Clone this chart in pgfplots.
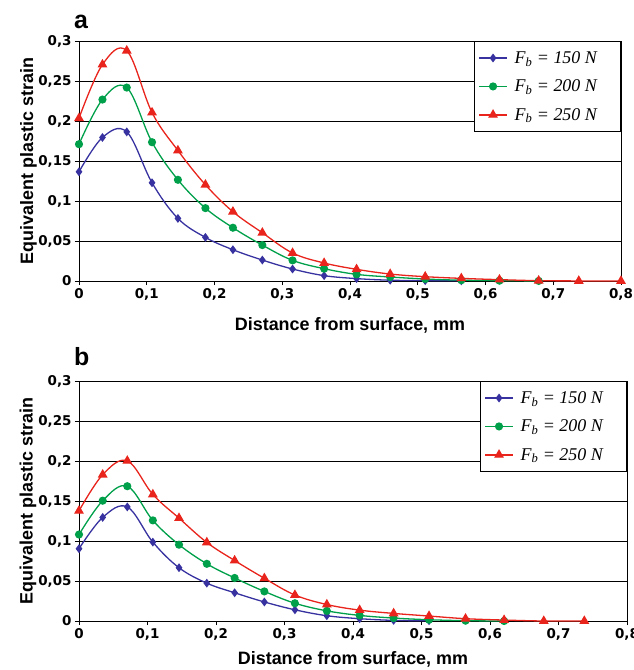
\documentclass[border=0pt]{standalone}
\usepackage{fontspec}
\usepackage{pgfplots}
\pgfplotsset{compat=1.18}
\setmainfont{Liberation Sans}
\newfontfamily\tickfont{DejaVu Sans}
\newfontfamily\legfont{Liberation Serif}
\definecolor{cblue}{RGB}{55,50,160}
\definecolor{cgreen}{RGB}{0,160,75}
\definecolor{cred}{RGB}{232,36,28}
\newcommand{\leg}[1]{\makebox[100bp][l]{\legfont\itshape F\textsubscript{b} = #1 N}}
\pgfplotsset{
  myax/.style={
    scale only axis,
    xmin=0, xmax=0.8, ymin=0, ymax=0.3,
    xtick={0,0.1,...,0.8}, ytick={0,0.05,...,0.3},
    /pgf/number format/.cd, use comma, fixed, precision=2, assume math mode=true,
    /pgfplots/.cd,
    tick label style={font=\tickfont\bfseries\fontsize{13.5}{14}\selectfont},
    tick align=outside, tick pos=left, major tick length=4bp,
    ymajorgrids, major grid style={black, line width=0.6bp},
    axis line style={black, line width=0.8bp},
    every tick/.style={black, line width=0.6bp},
    xlabel={Distance from surface, mm},
    ylabel={Equivalent plastic strain},
    label style={font=\bfseries\fontsize{18}{20}\selectfont},
    ylabel style={at={(axis description cs:-0.093,0.5)}, anchor=center, rotate=0},
    legend cell align=left,
    legend style={at={(1,1)}, anchor=north east, draw=black, line width=0.6bp,
      fill=white, font=\fontsize{18}{19}\selectfont, inner xsep=4bp, inner ysep=8bp,
      row sep=11bp, nodes={inner sep=2bp},
      /tikz/every odd column/.append style={column sep=5bp}},
    legend image code/.code={
      \draw[mark repeat=2, mark phase=2, #1] plot coordinates {(0bp,0bp) (14bp,0bp) (28bp,0bp)};},
  },
  sb/.style={cblue, line width=1.3bp, smooth, tension=0.6, mark=diamond*, mark size=3.4bp, mark options={solid}},
  sg/.style={cgreen, line width=1.3bp, smooth, tension=0.6, mark=*, mark size=3.4bp},
  sr/.style={cred, line width=1.3bp, smooth, tension=0.6, mark=triangle*, mark size=4.4bp},
}
\begin{document}
\begin{tikzpicture}
\useasboundingbox (0,0) rectangle (634bp,-670bp);
\begin{axis}[myax, at={(79bp,-281bp)}, anchor=south west, width=542bp, height=240bp,
  xlabel style={at={(axis description cs:0.5,-0.185)}, anchor=center}]
\addplot[sb] coordinates {(0,0.1365) (0.0346,0.1794) (0.0705,0.1864) (0.1078,0.1228) (0.146,0.0782) (0.1866,0.0545) (0.2272,0.0391) (0.2706,0.0262) (0.3152,0.0150) (0.3618,0.0067) (0.4097,0.0030) (0.4593,0.0010) (0.511,0.0005) (0.5643,0.0002)};
\addlegendentry{\leg{150}}
\addplot[sg] coordinates {(0,0.1710) (0.0346,0.2268) (0.0705,0.2418) (0.1078,0.1735) (0.146,0.1265) (0.1866,0.0911) (0.2272,0.0666) (0.2706,0.0449) (0.3152,0.0258) (0.3618,0.0154) (0.4097,0.0083) (0.4593,0.0050) (0.511,0.0025) (0.5643,0.0010) (0.6206,0.0004) (0.6785,0.0001)};
\addlegendentry{\leg{200}}
\addplot[sr] coordinates {(0,0.2035) (0.0346,0.2705) (0.0705,0.2879) (0.1078,0.2106) (0.146,0.1631) (0.1866,0.1203) (0.2272,0.0866) (0.2706,0.0603) (0.3152,0.0350) (0.3618,0.0225) (0.4097,0.0146) (0.4593,0.0087) (0.511,0.0054) (0.5643,0.0033) (0.6206,0.0017) (0.6785,0.0004) (0.7377,0.0001) (0.8,0.0)};
\addlegendentry{\leg{250}}
\end{axis}
\node[anchor=base west, font=\bfseries\fontsize{25}{26}\selectfont, inner sep=0] at (74bp,-28bp) {a};
\begin{axis}[myax, at={(79bp,-621bp)}, anchor=south west, width=548bp, height=240bp,
  xlabel style={at={(axis description cs:0.5,-0.16)}, anchor=center}]
\addplot[sb] coordinates {(0,0.0904) (0.0346,0.1295) (0.0705,0.1426) (0.1078,0.0986) (0.146,0.0666) (0.1866,0.0473) (0.2272,0.0353) (0.2706,0.0238) (0.3152,0.0140) (0.3618,0.0066) (0.4097,0.0029) (0.4593,0.0008) (0.511,0.0004)};
\addlegendentry{\leg{150}}
\addplot[sg] coordinates {(0,0.1081) (0.0346,0.1504) (0.0705,0.1685) (0.1078,0.1258) (0.146,0.0954) (0.1866,0.0715) (0.2272,0.0538) (0.2706,0.0370) (0.3152,0.0222) (0.3618,0.0127) (0.4097,0.0070) (0.4593,0.0037) (0.511,0.0016) (0.5643,0.0004) (0.6206,0.0)};
\addlegendentry{\leg{200}}
\addplot[sr] coordinates {(0,0.1377) (0.0346,0.1829) (0.0705,0.2002) (0.1078,0.1582) (0.146,0.1286) (0.1866,0.0982) (0.2272,0.0756) (0.2706,0.0534) (0.3152,0.0325) (0.3618,0.0206) (0.4097,0.0136) (0.4593,0.0095) (0.511,0.0062) (0.5643,0.0029) (0.6206,0.0012) (0.6785,0.0) (0.7377,0.0)};
\addlegendentry{\leg{250}}
\end{axis}
\node[anchor=base west, font=\bfseries\fontsize{25}{26}\selectfont, inner sep=0] at (74bp,-365bp) {b};
\end{tikzpicture}
\end{document}
